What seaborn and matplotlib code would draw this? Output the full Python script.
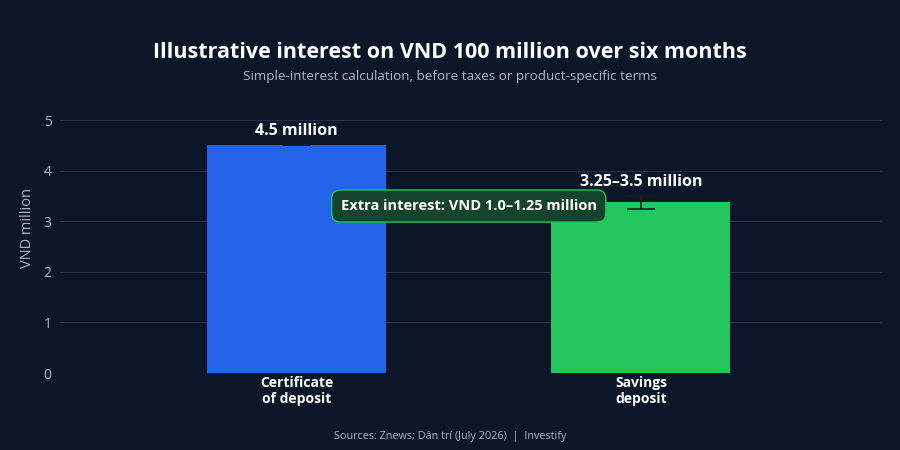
import matplotlib
matplotlib.use("Agg")
import matplotlib.pyplot as plt
import seaborn as sns
import pandas as pd

categories = ["Certificate\nof deposit", "Savings\ndeposit"]
values = [4.5, 3.375]
err_low = [4.5, 3.25]
err_high = [4.5, 3.5]
bar_labels = ["4.5 million", "3.25–3.5 million"]
colors = ["#2563eb", "#22c55e"]
title = "Illustrative interest on VND 100 million over six months"
subtitle = "Simple-interest calculation, before taxes or product-specific terms"
source = "Sources: Znews; Dân trí (July 2026)  |  Investify"
callout = "Extra interest: VND 1.0–1.25 million"
yticks = [0, 1, 2, 3, 4, 5]

BG = "#0b1628"
GRID = "#253349"
TXT = "#ffffff"
MUTED = "#a9b4c4"

sns.set_theme(style="dark")
plt.rcParams["font.family"] = ["Open Sans", "DejaVu Sans"]

df = pd.DataFrame({"cat": categories, "val": values})

fig = plt.figure(figsize=(9, 4.5), dpi=100, facecolor=BG)
ax = fig.add_axes([0.0667, 0.1711, 0.9133, 0.5622])
ax.set_facecolor(BG)

sns.barplot(data=df, x="cat", y="val", hue="cat", palette=colors, width=0.52,
            legend=False, ax=ax, saturation=1, edgecolor="none", zorder=3)

xs = list(range(len(categories)))
yerr = [[v - lo for v, lo in zip(values, err_low)], [hi - v for v, hi in zip(values, err_high)]]
ax.errorbar(xs, values, yerr=yerr, fmt="none", ecolor="#1a1a1a", elinewidth=1.2,
            capsize=10, capthick=1.2, zorder=4)

for x, hi, lab in zip(xs, err_high, bar_labels):
    ax.text(x, hi + 0.12, lab, ha="center", va="bottom", color=TXT,
            fontsize=11.5, fontweight="bold", zorder=5)

ax.text(0.5, 3.3, callout, ha="center", va="center", color=TXT, fontsize=10.5,
        fontweight="bold", zorder=6,
        bbox=dict(boxstyle="round,pad=0.62,rounding_size=0.6", facecolor="#15432b",
                  edgecolor="#22c55e", linewidth=1))

ax.set_ylim(0, 5)
ax.set_xlim(-0.687, 1.70)
ax.set_yticks(yticks)
ax.set_yticklabels([str(t) for t in yticks])
ax.grid(axis="y", color=GRID, linewidth=0.8, zorder=0)
ax.grid(axis="x", visible=False)
for s in ax.spines.values():
    s.set_visible(False)
ax.tick_params(axis="y", colors=MUTED, labelsize=10, length=0, pad=6)
ax.tick_params(axis="x", colors=TXT, labelsize=10, length=0, pad=2)
for t in ax.get_xticklabels():
    t.set_fontweight("bold")
    t.set_color(TXT)
ax.set_xlabel("")
ax.set_ylabel("VND million", color=MUTED, fontsize=10.5)
ax.yaxis.set_label_coords(-0.031, 0.573)

fig.text(0.5, 0.884, title, ha="center", va="center", color=TXT, fontsize=15.5, fontweight="bold")
fig.text(0.5, 0.829, subtitle, ha="center", va="center", color=MUTED, fontsize=9.7)
fig.text(0.5, 0.029, source, ha="center", va="center", color=MUTED, fontsize=7.8)

fig.savefig("out.png", dpi=100, facecolor=BG)
